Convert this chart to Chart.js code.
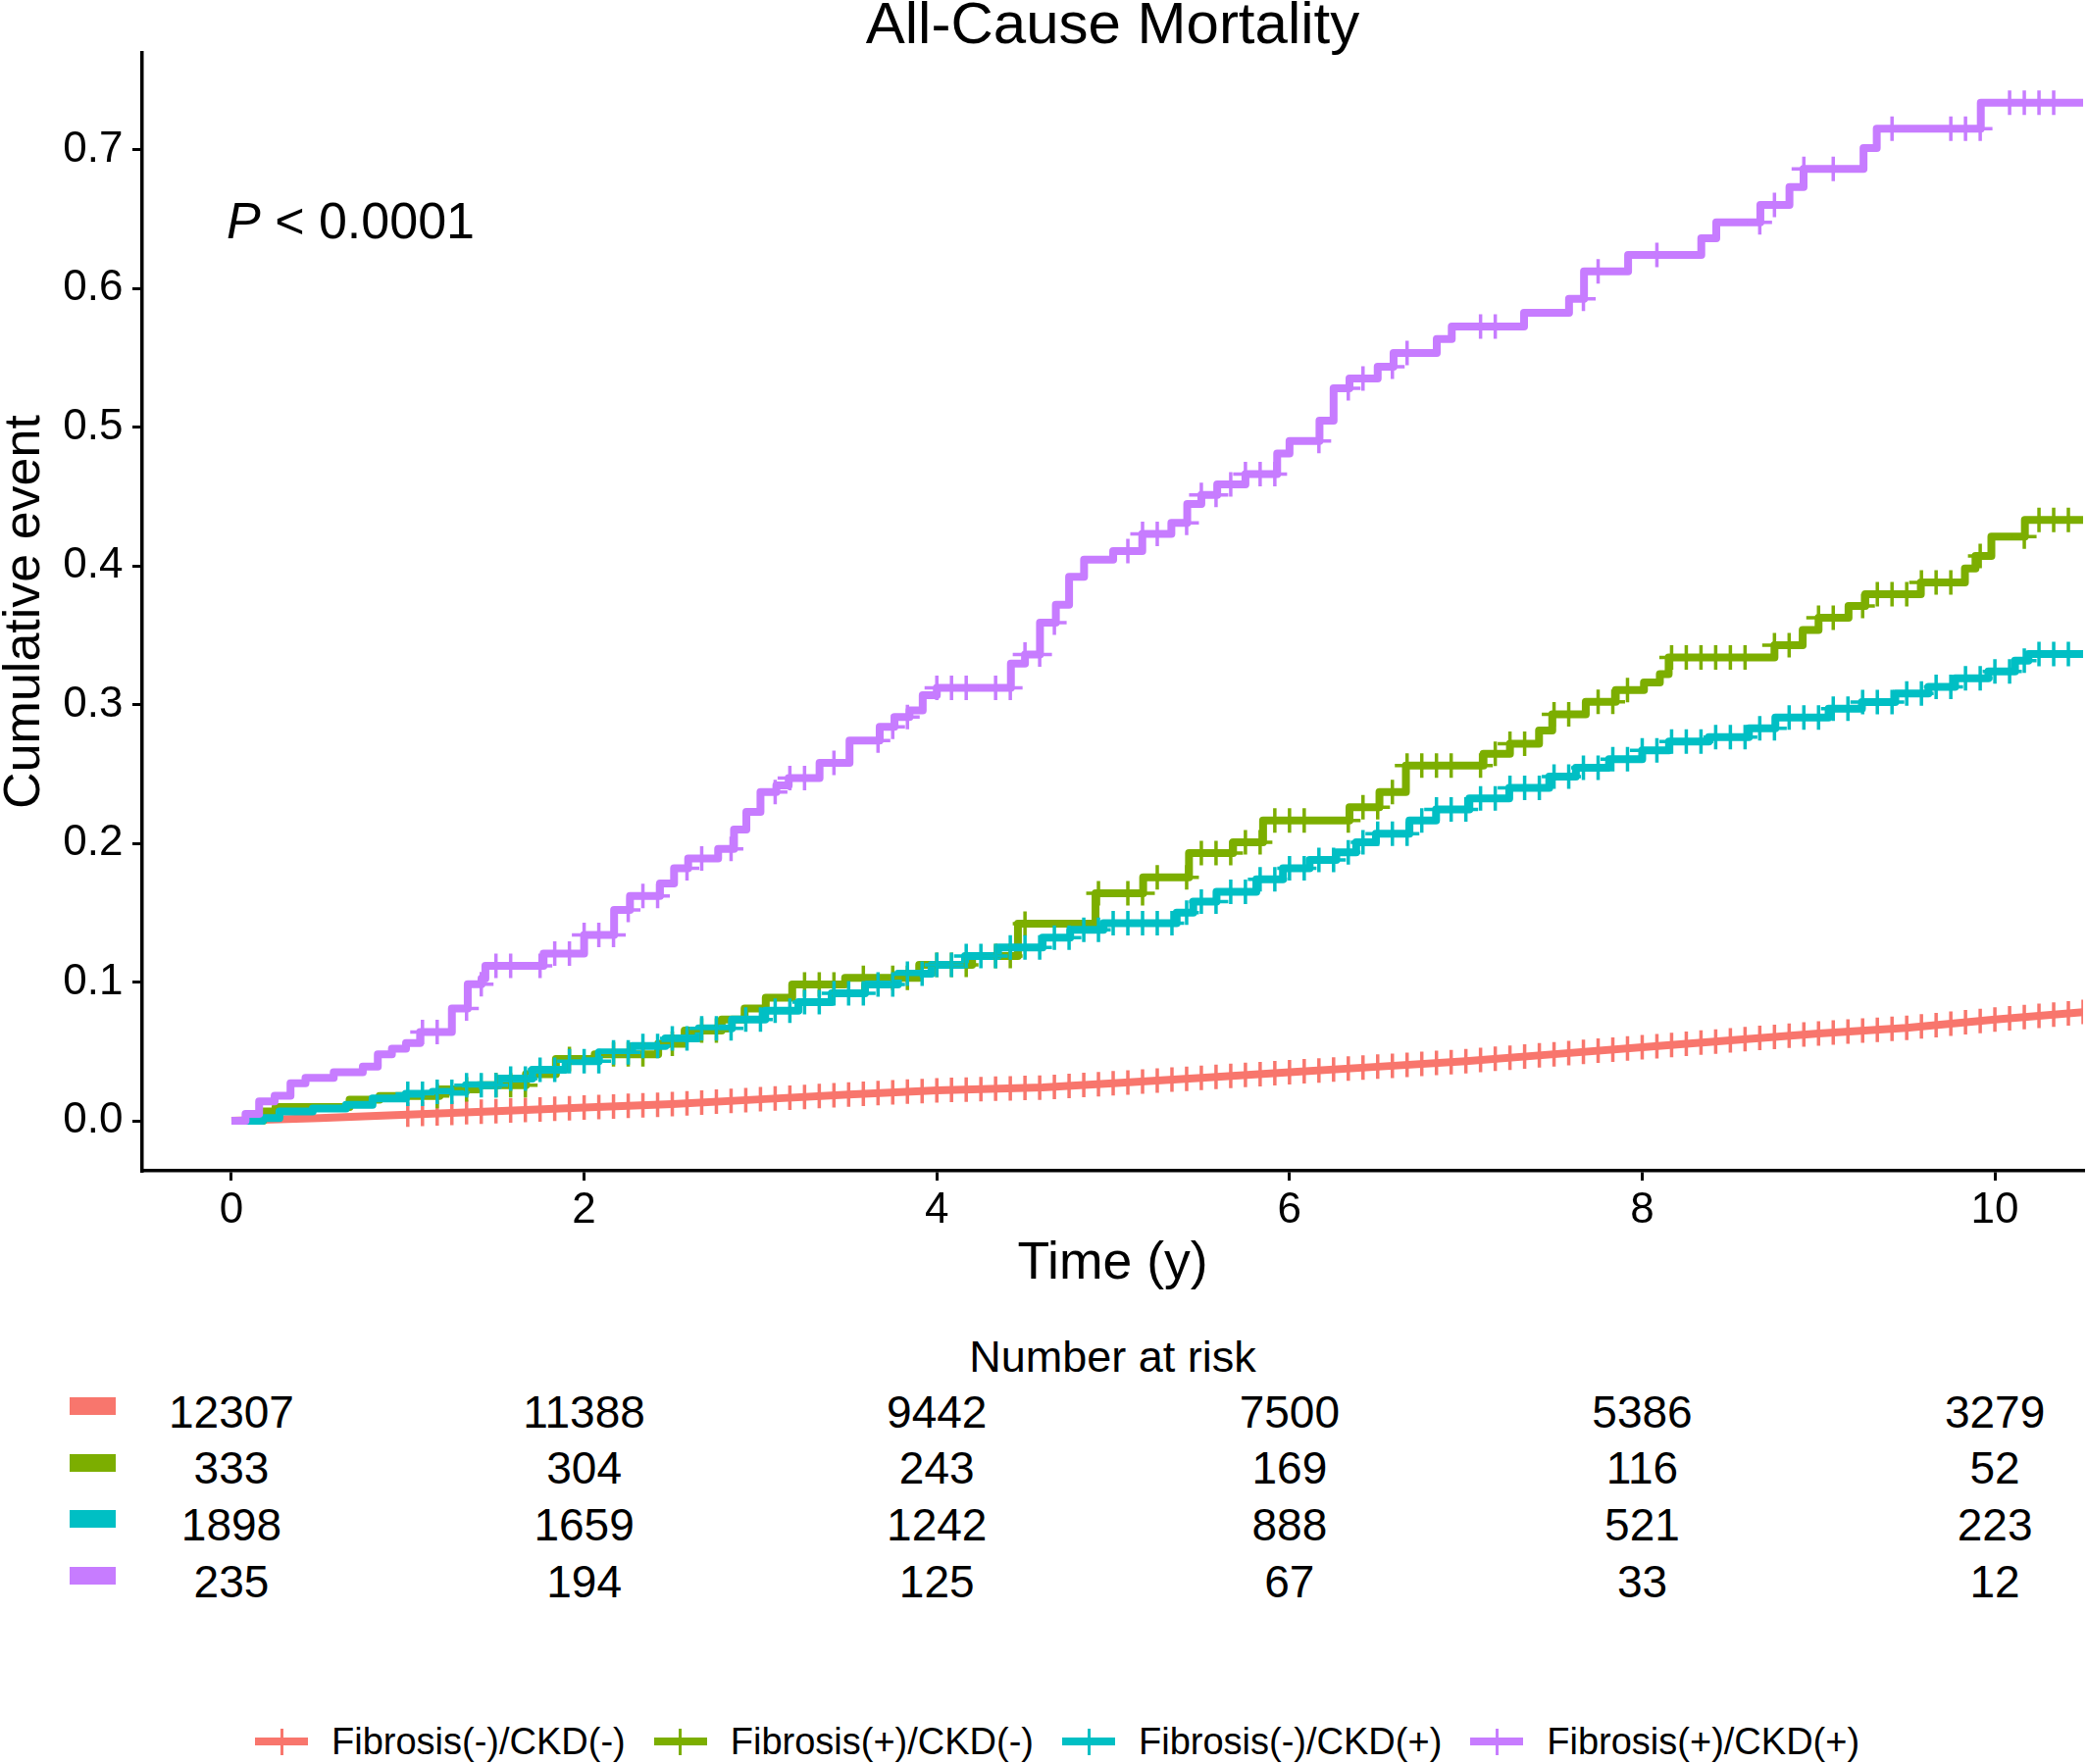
<!DOCTYPE html>
<html>
<head>
<meta charset="utf-8">
<title>All-Cause Mortality</title>
<script src="https://cdn.jsdelivr.net/npm/chart.js@4.4.1/dist/chart.umd.min.js"></script>
<style>
  html, body { margin: 0; padding: 0; background: #fff; }
  body {
    width: 2128px; height: 1799px; position: relative; overflow: hidden;
    font-family: "Liberation Sans", Arial, Helvetica, sans-serif; color: #000;
  }
  #km { position: absolute; left: 0; top: 0; }
  .txt { position: absolute; white-space: nowrap; }
  .bar { position: absolute; width: 47px; height: 18px; }
  #legend { position: absolute; left: 260px; top: 1756px; height: 40px; display: flex; align-items: center; }
  .item { display: flex; align-items: center; margin-right: 29px; }
  .key { position: relative; width: 54px; height: 27px; margin-right: 24px; }
  .key::before { content: ""; position: absolute; left: 0; top: 9.5px; width: 54px; height: 8px; background: var(--c); }
  .key::after { content: ""; position: absolute; left: 25.5px; top: 0; width: 3px; height: 27px; background: var(--c); }
  .label { font-size: 38px; line-height: 38px; }
</style>
</head>
<body>
<canvas id="km" width="2128" height="1340"></canvas>
<div id="overlay"></div>
<script>
const FONT = '"Liberation Sans", Arial, Helvetica, sans-serif';

const GROUPS = ["Fibrosis(-)/CKD(-)", "Fibrosis(+)/CKD(-)", "Fibrosis(-)/CKD(+)", "Fibrosis(+)/CKD(+)"];
const COLORS = ["#F8766D", "#7CAE00", "#00BFC4", "#C77CFF"];

const X_TICKS = [0, 2, 4, 6, 8, 10];
const Y_TICKS = [0, 0.1, 0.2, 0.3, 0.4, 0.5, 0.6, 0.7];

// number at risk at each x tick
const RISK_NEG_NEG = [12307, 11388, 9442, 7500, 5386, 3279];
const RISK_POS_NEG = [333, 304, 243, 169, 116, 52];
const RISK_NEG_POS = [1898, 1659, 1242, 888, 521, 223];
const RISK_POS_POS = [235, 194, 125, 67, 33, 12];

// cumulative event curves, [time (y), value]; red is drawn as a plain line
const CURVE_NEG_NEG = [
  [0,0],[0.5,0.002],[1,0.0045],[1.5,0.007],[2,0.0095],[2.5,0.012],[3,0.0155],[3.5,0.019],
  [4,0.022],[4.6,0.024],[5,0.027],[5.5,0.031],[6,0.035],[6.5,0.039],[7,0.043],[7.5,0.048],
  [8,0.053],[8.5,0.058],[9,0.063],[9.5,0.067],[10,0.073],[10.5,0.0784]
];
const CURVE_POS_NEG = [
  [0,0],[0.18,0.0067],[0.25,0.0099],[0.67,0.0153],[0.84,0.0178],[1.18,0.0226],[1.4,0.0257],
  [1.67,0.0336],[1.84,0.0445],[2.06,0.048],[2.42,0.0556],[2.57,0.065],[2.78,0.073],[2.91,0.0809],
  [3.03,0.0888],[3.18,0.0982],[3.48,0.103],[3.9,0.1124],[4.2,0.1187],[4.46,0.142],[4.9,0.164],
  [5.17,0.1755],[5.43,0.193],[5.68,0.2007],[5.85,0.2165],[6.34,0.226],[6.51,0.237],[6.66,0.256],
  [7.1,0.2645],[7.25,0.2717],[7.415,0.2813],[7.49,0.293],[7.68,0.302],[7.85,0.3105],[8.01,0.316],
  [8.1,0.322],[8.15,0.334],[8.75,0.3427],[8.91,0.3538],[9.0,0.3625],[9.17,0.371],[9.265,0.3795],
  [9.58,0.388],[9.83,0.398],[9.89,0.407],[9.98,0.421],[10.17,0.433],[10.5,0.433]
];
const CURVE_NEG_POS = [
  [0,0],[0.178,0.002],[0.272,0.0067],[0.461,0.0089],[0.65,0.0115],[0.8,0.0162],[0.989,0.0194],
  [1.14,0.0209],[1.329,0.0257],[1.517,0.0304],[1.706,0.0367],[1.895,0.043],[2.084,0.0493],
  [2.272,0.054],[2.461,0.0594],[2.65,0.0667],[2.838,0.073],[3.027,0.0793],[3.215,0.0856],
  [3.404,0.0919],[3.593,0.0982],[3.78,0.106],[3.97,0.1124],[4.16,0.1187],[4.347,0.125],
  [4.6,0.132],[4.756,0.1377],[4.945,0.1424],[5.36,0.15],[5.454,0.158],[5.586,0.165],[5.812,0.174],
  [5.963,0.182],[6.114,0.188],[6.265,0.1935],[6.378,0.2008],[6.49,0.207],[6.68,0.2165],
  [6.831,0.2244],[7.02,0.2323],[7.246,0.24],[7.473,0.248],[7.624,0.2544],[7.812,0.2607],
  [8.0,0.267],[8.152,0.2733],[8.378,0.2765],[8.605,0.2828],[8.755,0.2907],[9.057,0.297],
  [9.246,0.3017],[9.435,0.308],[9.623,0.3128],[9.774,0.319],[9.963,0.3238],[10.114,0.3317],
  [10.19,0.3364],[10.5,0.3364]
];
const CURVE_POS_POS = [
  [0,0],[0.08,0.005],[0.157,0.014],[0.245,0.018],[0.335,0.027],[0.42,0.031],[0.58,0.035],
  [0.745,0.039],[0.83,0.048],[0.91,0.052],[0.99,0.056],[1.07,0.064],[1.25,0.081],[1.34,0.0985],
  [1.418,0.1025],[1.44,0.1117],[1.77,0.1205],[2.0,0.134],[2.17,0.152],[2.26,0.162],[2.43,0.171],
  [2.51,0.182],[2.59,0.189],[2.76,0.196],[2.85,0.21],[2.92,0.2226],[3.0,0.237],[3.09,0.2417],
  [3.16,0.247],[3.335,0.258],[3.505,0.274],[3.676,0.284],[3.76,0.291],[3.845,0.2957],[3.92,0.3067],
  [4.0,0.312],[4.42,0.3295],[4.5,0.336],[4.585,0.359],[4.675,0.372],[4.75,0.392],[4.835,0.4045],
  [5.0,0.4106],[5.165,0.423],[5.33,0.431],[5.42,0.4445],[5.5,0.451],[5.59,0.4586],[5.75,0.466],
  [5.93,0.481],[6.0,0.49],[6.17,0.5046],[6.25,0.528],[6.34,0.535],[6.5,0.5435],[6.59,0.5533],
  [6.835,0.5635],[6.92,0.5724],[7.33,0.5823],[7.585,0.5924],[7.67,0.6122],[7.92,0.624],
  [8.335,0.636],[8.42,0.6476],[8.67,0.66],[8.835,0.673],[8.915,0.686],[9.255,0.701],[9.33,0.715],
  [9.92,0.7338],[10.5,0.7338]
];

// censoring marks, in months
const CENSOR_NEG_NEG = [
  12,13,14,15,16,17,18,19,20,21,22,23,24,25,26,27,28,29,30,31,32,33,34,35,36,37,38,39,40,41,
  42,43,44,45,46,47,48,49,50,51,52,53,54,55,56,57,58,59,60,61,62,63,64,65,66,67,68,69,70,71,
  72,73,74,75,76,77,78,79,80,81,82,83,84,85,86,87,88,89,90,91,92,93,94,95,96,97,98,99,100,101,
  102,103,104,105,106,107,108,109,110,111,112,113,114,115,116,117,118,119,120,121,122,123,124,125,126
];
const CENSOR_POS_NEG = [
  14,16,18,19,20,23,26,27,28,30,32,33,39,40,41,43,45,46,48,49,50,52,53,54,59,61,62,63,65,66,
  67,68,69,70,71,72,73,76,77,78,79,80,81,82,83,85,86,87,88,90,91,93,94,95,98,99,100,101,102,103,
  105,106,108,109,111,112,113,114,115,116,117,119,122,123,124,125
];
const CENSOR_NEG_POS = [
  12,13,14,15,16,17,18,19,20,21,22,23,24,25,26,27,28,29,30,31,32,33,34,35,36,37,38,39,40,41,
  42,43,44,45,46,47,48,49,50,51,52,53,54,55,56,57,58,59,60,61,62,63,64,65,66,67,68,69,70,71,
  72,73,74,75,76,77,78,79,80,81,82,83,84,85,86,87,88,89,90,91,92,93,94,95,96,97,98,99,100,101,
  102,103,104,105,106,107,108,109,110,111,112,113,114,115,116,117,118,119,120,121,122,123,124,125
];
const CENSOR_POS_POS = [
  13,14,16,17,18,19,21,22,23,24,25,26,27,28,29,31,32,34,37,38,39,41,44,45,46,48,49,50,52,53,
  54,55,56,61,62,63,65,66,67,68,69,70,71,74,76,77,79,80,85,86,92,93,97,104,105,107,109,113,117,118,
  119,121,122,123,124
];

const CURVES = [CURVE_NEG_NEG, CURVE_POS_NEG, CURVE_NEG_POS, CURVE_POS_POS];
const CENSORS = [CENSOR_NEG_NEG, CENSOR_POS_NEG, CENSOR_NEG_POS, CENSOR_POS_POS];
const RISKS = [RISK_NEG_NEG, RISK_POS_NEG, RISK_NEG_POS, RISK_POS_POS];
const LINEAR = [true, false, false, false];

// height of the curve at time t (step curve, or straight segments for red)
function curveAt(curve, t, linear) {
  let i = 0;
  while (i < curve.length - 1 && curve[i + 1][0] <= t) i++;
  if (!linear || i === curve.length - 1) return curve[i][1];
  const [t0, v0] = curve[i], [t1, v1] = curve[i + 1];
  return v0 + (v1 - v0) * (t - t0) / (t1 - t0);
}

Chart.defaults.font.family = FONT;
Chart.defaults.color = "#000";

const datasets = [];
CURVES.forEach((curve, i) => {
  datasets.push({
    label: GROUPS[i],
    data: curve.map(([x, y]) => ({ x, y })),
    showLine: true,
    stepped: LINEAR[i] ? false : "before",
    borderColor: COLORS[i],
    backgroundColor: COLORS[i],
    borderWidth: 8,
    borderJoinStyle: "round",
    pointRadius: 0,
    pointHoverRadius: 0,
    order: 8 - i,
  });
});
CENSORS.forEach((months, i) => {
  datasets.push({
    label: GROUPS[i] + " censored",
    data: months.map(m => ({ x: m / 12, y: curveAt(CURVES[i], m / 12, LINEAR[i]) })),
    showLine: false,
    pointStyle: "cross",
    pointRadius: 12.5,
    pointHoverRadius: 12.5,
    pointBorderWidth: 3.5,
    pointBorderColor: COLORS[i],
    pointBackgroundColor: COLORS[i],
    order: 4 - i,
  });
});

const axisCommon = {
  type: "linear",
  grid: { drawOnChartArea: false, color: "#000", lineWidth: 3, tickLength: 10 },
  border: { display: true, color: "#000", width: 3.5 },
};

const chart = new Chart(document.getElementById("km"), {
  type: "scatter",
  data: { datasets },
  options: {
    responsive: false,
    animation: false,
    devicePixelRatio: 1,
    layout: { autoPadding: false, padding: { left: 0, top: 0, right: 4, bottom: 0 } },
    plugins: {
      legend: { display: false },
      tooltip: { enabled: false },
      title: {
        display: true,
        fullSize: false,
        text: "All-Cause Mortality",
        color: "#000",
        font: { size: 60, weight: "normal", lineHeight: 54 / 60 },
        padding: { top: 0, bottom: 0 },
      },
    },
    scales: {
      x: {
        ...axisCommon,
        min: -0.506, max: 10.5,
        afterBuildTicks: s => { s.ticks = X_TICKS.map(v => ({ value: v })); },
        afterFit: s => { s.height = 146; s.paddingLeft = 0; s.paddingRight = 0; },
        ticks: { autoSkip: false, maxRotation: 0, padding: 4, color: "#000", font: { size: 44 }, callback: v => String(v) },
        title: { display: true, text: "Time (y)", color: "#000", font: { size: 53.5, lineHeight: 1 }, padding: { top: 0, bottom: 24 } },
      },
      y: {
        ...axisCommon,
        min: -0.036, max: 0.7696,
        afterBuildTicks: s => { s.ticks = Y_TICKS.map(v => ({ value: v })); },
        afterFit: s => { s.width = 145; },
        ticks: { autoSkip: false, padding: 9.5, color: "#000", font: { size: 44 }, callback: v => v.toFixed(1) },
        title: { display: true, text: "Cumulative event", color: "#000", font: { size: 52, lineHeight: 1 }, padding: { top: 0, bottom: 0 } },
      },
    },
  },
});

// p-value, risk table and legend as page text, columns placed by the x scale
const overlay = document.getElementById("overlay");
function addText(html, left, top, size, center) {
  const d = document.createElement("div");
  d.className = "txt";
  d.innerHTML = html;
  d.style.left = left + "px";
  d.style.top = top + "px";
  d.style.fontSize = size + "px";
  d.style.lineHeight = size + "px";
  if (center) d.style.transform = "translateX(-50%)";
  overlay.appendChild(d);
}

const xs = chart.scales.x;
addText("<i>P</i> &lt; 0.0001", 231, 199, 52, false);
addText("Number at risk", (xs.left + xs.right) / 2, 1361, 45, true);

RISKS.forEach((row, r) => {
  const cy = 1439 + r * 57.7;
  const bar = document.createElement("div");
  bar.className = "bar";
  bar.style.left = "71px";
  bar.style.top = (cy - 14) + "px";
  bar.style.background = COLORS[r];
  overlay.appendChild(bar);
  row.forEach((n, c) => addText(String(n), xs.getPixelForValue(X_TICKS[c]), cy - 22.5, 46, true));
});

const legend = document.createElement("div");
legend.id = "legend";
GROUPS.forEach((g, i) => {
  const item = document.createElement("div");
  item.className = "item";
  item.innerHTML = '<span class="key" style="--c:' + COLORS[i] + '"></span><span class="label">' + g + "</span>";
  legend.appendChild(item);
});
overlay.appendChild(legend);
</script>
</body>
</html>
